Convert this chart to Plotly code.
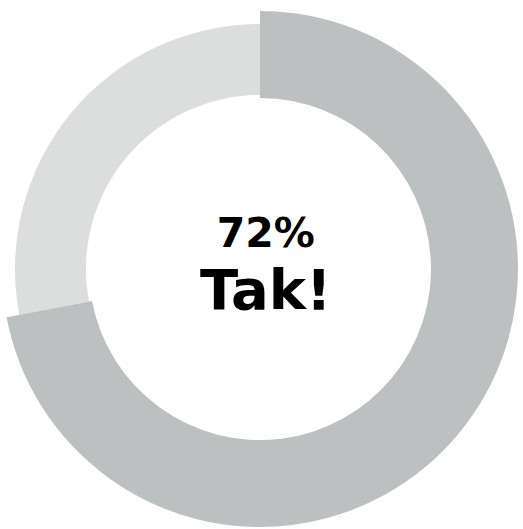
import plotly.graph_objects as go

# ---- data ----
labels = ["Tak", "Nie"]
values = [72, 28]
answer_label = "Tak!"

# ---- styling ----
W, H = 523, 529
dark = "#bdc0c1"
light = "#dcdede"
clear = "rgba(0,0,0,0)"

def domain(cx, cy, r):
    """pie domain (paper coords) for a pie of radius r centred at pixel (cx, cy)"""
    return dict(x=[(cx - r) / W, (cx + r) / W],
                y=[(H - (cy + r)) / H, (H - (cy - r)) / H])

cx, cy = 260, 269
R_dark, r_dark = 258, 171
R_light, r_light = 245, 174

fig = go.Figure()
# light (smaller) ring – only the "Nie" slice visible
fig.add_trace(go.Pie(
    labels=labels, values=values, sort=False, direction="clockwise", rotation=0,
    hole=r_light / R_light, domain=domain(cx, cy, R_light),
    marker=dict(colors=[clear, light], line=dict(width=0)),
    textinfo="none", hoverinfo="skip", showlegend=False,
))
# dark (larger) ring – only the "Tak" slice visible
fig.add_trace(go.Pie(
    labels=labels, values=values, sort=False, direction="clockwise", rotation=0,
    hole=r_dark / R_dark, domain=domain(cx, cy, R_dark),
    marker=dict(colors=[dark, clear], line=dict(width=0)),
    textinfo="none", hoverinfo="skip", showlegend=False,
))

center_text = (f"<span style='font-size:41px'>{values[0]}%</span><br>"
               f"<span style='font-size:56px'>{answer_label}</span>")
fig.add_annotation(x=266 / W, y=1 - 265 / H, xref="paper", yref="paper",
                   text=center_text, showarrow=False, xanchor="center", yanchor="middle",
                   align="center",
                   font=dict(family="DejaVu Sans", size=48, color="#000000", weight="bold"))

fig.update_layout(width=W, height=H, margin=dict(l=0, r=0, t=0, b=0),
                  paper_bgcolor="white", plot_bgcolor="white", showlegend=False)

fig.write_html("out.html")
